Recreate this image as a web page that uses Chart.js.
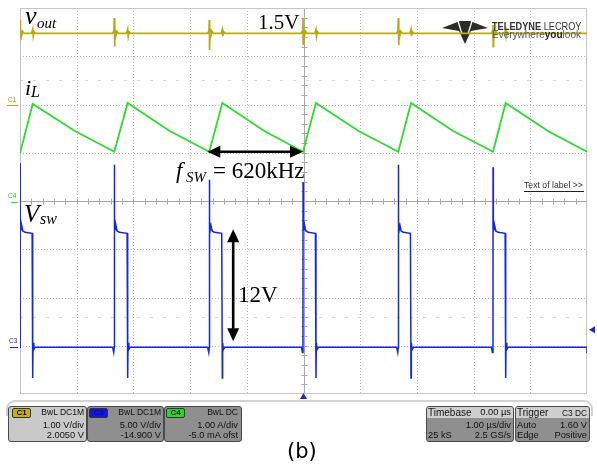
<!DOCTYPE html>
<html>
<head>
<title>Buck converter scope capture</title>
<script src="https://cdn.jsdelivr.net/npm/chart.js"></script>
<style>
body { margin: 0; background: #fff; }
#wrap { position: relative; width: 597px; height: 468px; overflow: hidden; }
#scope { position: absolute; left: 0; top: 0; }
.t { position: absolute; white-space: nowrap; line-height: 1; }
.serif { font-family: 'Liberation Serif', 'Times New Roman', serif; color: #000; }
.it { font-style: italic; }
.sans { font-family: 'Liberation Sans', Arial, sans-serif; color: #111; }
.dejavu { font-family: 'DejaVu Sans', sans-serif; color: #000; }
.panel { position: absolute; left: 6px; top: 400px; width: 583px; height: 14px;
  border: 2px solid #d2d2d2; border-bottom: none; border-radius: 9px 9px 0 0; }
.box { position: absolute; top: 406px; height: 34px; border: 1px solid #4a4a4a;
  border-radius: 3px; background: #8f8f8f; overflow: hidden; }
.head { position: absolute; left: 0; top: 0; right: 0; height: 11px; background: #cfcfcf; }
.badge { position: absolute; top: 408px; height: 8px; width: 17px; border: 1px solid #333;
  border-radius: 2px; font: bold 8px 'Liberation Sans', Arial, sans-serif; line-height: 8px;
  text-align: center; }
</style>
</head>
<body>
<div id="wrap">
  <canvas id="scope" width="597" height="468"></canvas>
  <div class="panel"></div>
  <div class="box" style="left:8px;width:77px;background:#c9c9c9"></div>
  <div class="box" style="left:87px;width:75px"></div>
  <div class="box" style="left:164px;width:76px"></div>
  <div class="box" style="left:426px;width:86px"><div class="head"></div></div>
  <div class="box" style="left:515px;width:73px"><div class="head"></div></div>
  <div class="badge" style="left:12px;background:#c8b400;color:#000">C1</div>
  <div class="badge" style="left:89px;background:#1414e6;color:#0a0a90">C3</div>
  <div class="badge" style="left:166px;background:#22dd22;color:#000">C4</div>
</div>

<script>
// time in µs over the 10 screen divisions (1 µs/div), amplitude in screen divisions (centre line = 0)

// switch node (C3, 5 V/div)
const swRise = [0.000, 1.663, 3.339, 4.991, 6.672, 8.342];
const swFall = [0.224, 1.899, 3.568, 5.220, 6.896, 8.566];
const swSpike = [0.79, 0.75, 0.44, 0.39, 0.75, 0.70];
const swHigh = -0.65;
const swRing = -0.43;
const swLow = -3.03;
const swUnder = -3.67;

// inductor current (C4, 1 A/div)
const ilT = [0, 0.224, 0.97, 1.663, 1.899, 2.64, 3.339, 3.568, 4.31, 4.991, 5.220, 5.97,
             6.672, 6.896, 7.64, 8.342, 8.566, 9.31, 10];
const ilA = [0.99, 2.01, 1.45, 1.02, 2.03, 1.45, 1.02, 2.03, 1.45, 1.02, 2.03, 1.45,
             1.02, 2.03, 1.45, 1.02, 2.03, 1.45, 1.02];

// output voltage (C1, 1 V/div)
const voutLevel = 3.476;
const voutHi = [3.75, 3.79, 3.75, 3.80, 3.79, 3.65];
const voutLo = [3.37, 3.20, 3.13, 3.25, 3.23, 3.20];

const refLevels = [2.51, -2.40];
const trigLevel = -2.67;

const yellow = '#b9aa14';
const green = '#2edc2e';
const blue = '#1428dc';

function buildVsw() {
    const pts = [];
    swRise.forEach((r, i) => {
        const f = swFall[i];
        if (i > 0) pts.push({x: r - 0.03, y: swLow}, {x: r - 0.01, y: swLow - 0.11});
        pts.push({x: r, y: swLow}, {x: r + 0.001, y: swSpike[i]}, {x: r + 0.006, y: swRing},
            {x: r + 0.018, y: swHigh + 0.06}, {x: r + 0.03, y: swRing - 0.08},
            {x: r + 0.05, y: swHigh + 0.03}, {x: r + 0.09, y: swHigh},
            {x: f - 0.01, y: swHigh - 0.02}, {x: f, y: swUnder},
            {x: f + 0.006, y: swLow + 0.09}, {x: f + 0.02, y: swLow - 0.05},
            {x: f + 0.045, y: swLow});
    });
    pts.push({x: 10, y: swLow}, {x: 10, y: swLow - 0.12});
    return pts;
}

function buildVout() {
    const L = voutLevel, pts = [];
    swRise.forEach((r, i) => {
        const f = swFall[i];
        if (i > 0) pts.push({x: r - 0.03, y: L}, {x: r - 0.006, y: L + 0.05});
        pts.push({x: r, y: voutHi[i]}, {x: r + 0.004, y: voutLo[i]}, {x: r + 0.012, y: L + 0.1},
            {x: r + 0.025, y: L - 0.06}, {x: r + 0.045, y: L + 0.04}, {x: r + 0.07, y: L},
            {x: f - 0.02, y: L}, {x: f, y: L + 0.08}, {x: f + 0.01, y: L - 0.06},
            {x: f + 0.025, y: L + 0.03}, {x: f + 0.05, y: L});
    });
    pts.push({x: 10, y: L});
    return pts;
}

const ilPts = ilT.map((t, i) => ({x: t, y: ilA[i]}));

function seg(ctx, x1, y1, x2, y2) {
    ctx.beginPath(); ctx.moveTo(x1, y1); ctx.lineTo(x2, y2); ctx.stroke();
}
function poly(ctx, p) {
    ctx.beginPath(); ctx.moveTo(p[0], p[1]);
    for (let i = 2; i < p.length; i += 2) ctx.lineTo(p[i], p[i + 1]);
    ctx.closePath(); ctx.fill();
}

const scopeGrid = {
    id: 'scopeGrid',
    beforeDatasetsDraw(chart) {
        const {ctx, chartArea: a, scales: {x, y}} = chart;
        ctx.save();
        ctx.lineWidth = 1;
        ctx.strokeStyle = '#b9b9b9';
        ctx.setLineDash([1, 2]);
        for (let i = 1; i < 10; i++) {
            if (i === 5) continue;
            const px = Math.round(x.getPixelForValue(i)) + 0.5;
            seg(ctx, px, a.top, px, a.bottom);
        }
        for (let j = -3; j <= 3; j++) {
            if (j === 0) continue;
            const py = Math.round(y.getPixelForValue(j)) + 0.5;
            seg(ctx, a.left, py, a.right, py);
        }
        ctx.strokeStyle = '#d8d8d8';
        ctx.setLineDash([3, 10]);
        refLevels.forEach(v => {
            const py = Math.round(y.getPixelForValue(v)) + 0.5;
            seg(ctx, a.left, py, a.right, py);
        });
        ctx.setLineDash([]);
        // centre axes with minor ticks
        ctx.strokeStyle = '#a9a9a9';
        const cx = Math.round(x.getPixelForValue(5)) + 0.5;
        const cy = Math.round(y.getPixelForValue(0)) + 0.5;
        seg(ctx, cx, a.top, cx, a.bottom);
        seg(ctx, a.left, cy, a.right, cy);
        for (let k = 1; k < 50; k++) {
            const px = Math.round(x.getPixelForValue(k * 0.2)) + 0.5;
            seg(ctx, px, cy - 3, px, cy + 3);
        }
        for (let k = 1; k < 40; k++) {
            const py = Math.round(y.getPixelForValue(-4 + k * 0.2)) + 0.5;
            seg(ctx, cx - 3, py, cx + 3, py);
        }
        ctx.strokeStyle = '#c6c6c6';
        ctx.strokeRect(a.left + 0.5, a.top + 0.5, a.width - 1, a.height - 1);
        // maker logo
        ctx.fillStyle = '#2b2b2b';
        poly(ctx, [442, 28, 460, 21, 470, 21, 488, 28, 471, 31, 465, 44, 459, 31]);
        ctx.strokeStyle = '#fff';
        ctx.lineWidth = 1.3;
        seg(ctx, 458, 21, 462, 34);
        seg(ctx, 472, 21, 468, 34);
        ctx.restore();
    },
    afterDraw(chart) {
        const {ctx, scales: {x, y}} = chart;
        ctx.save();
        ctx.strokeStyle = '#000';
        ctx.fillStyle = '#000';
        ctx.lineWidth = 2.6;
        // period arrow between two switching edges
        const x1 = x.getPixelForValue(swRise[2]) - 2, x2 = x.getPixelForValue(swRise[3]);
        const ya = y.getPixelForValue(ilA[3]);
        seg(ctx, x1 + 8, ya, x2 - 8, ya);
        poly(ctx, [x1, ya, x1 + 13, ya - 6, x1 + 13, ya + 6]);
        poly(ctx, [x2, ya, x2 - 13, ya - 6, x2 - 13, ya + 6]);
        // amplitude arrow of the switch node
        const xa = x.getPixelForValue(3.76);
        const yt = y.getPixelForValue(swHigh) - 3, yb = y.getPixelForValue(swLow) - 6;
        seg(ctx, xa, yt + 8, xa, yb - 8);
        poly(ctx, [xa, yt, xa - 6, yt + 13, xa + 6, yt + 13]);
        poly(ctx, [xa, yb, xa - 6, yb - 13, xa + 6, yb - 13]);
        // channel ground markers
        ctx.lineWidth = 1;
        ctx.strokeStyle = yellow; seg(ctx, 7, 105.5, 18, 105.5);
        ctx.strokeStyle = green; seg(ctx, 11, 202.5, 18, 202.5);
        ctx.strokeStyle = blue; seg(ctx, 10, 347.5, 18, 347.5);
        ctx.strokeStyle = '#222'; seg(ctx, 524, 191.5, 584, 191.5);
        // trigger markers
        ctx.fillStyle = blue;
        const ty = y.getPixelForValue(trigLevel);
        poly(ctx, [589, ty, 595, ty - 3.5, 595, ty + 3.5]);
        const tx = x.getPixelForValue(5);
        poly(ctx, [tx, 393, tx - 3.5, 399, tx + 3.5, 399]);
        ctx.restore();
    }
};

new Chart(document.getElementById('scope').getContext('2d'), {
    type: 'line',
    data: {
        datasets: [
            {data: buildVout(), borderColor: yellow, borderWidth: 1.7},
            {data: ilPts, borderColor: green, borderWidth: 1.8},
            {data: buildVsw(), borderColor: blue, borderWidth: 1.5}
        ]
    },
    options: {
        responsive: false,
        animation: false,
        layout: {padding: {left: 20, right: 10, top: 8, bottom: 74}},
        elements: {point: {radius: 0}, line: {tension: 0}},
        scales: {
            x: {type: 'linear', min: 0, max: 10, display: false},
            y: {min: -4, max: 4, display: false}
        },
        plugins: {legend: {display: false}, tooltip: {enabled: false}}
    },
    plugins: [scopeGrid]
});

// text layer
const wrap = document.getElementById('wrap');
function txt(s, x, base, size, cls, align, style) {
    const el = document.createElement('span');
    el.className = 't ' + cls;
    el.innerHTML = s;
    el.style.fontSize = size + 'px';
    const k = cls.indexOf('serif') >= 0 ? 0.8375 : 0.8465;
    el.style.top = (base - k * size) + 'px';
    if (align === 'right') el.style.right = (597 - x) + 'px';
    else el.style.left = x + 'px';
    if (style) Object.assign(el.style, style);
    wrap.appendChild(el);
}

txt('v', 25, 25, 26, 'serif it');
txt('out', 37, 28.5, 15, 'serif it');
txt('1.5V', 258, 30, 21, 'serif');
txt('i', 25, 95, 22, 'serif it');
txt('L', 31, 97.5, 16, 'serif it');
txt('f', 176, 178, 23, 'serif it');
txt('SW', 186, 182.5, 15, 'serif it');
txt('= 620kHz', 213, 178, 23, 'serif');
txt('V', 24, 222, 25, 'serif it');
txt('sw', 40, 224, 16, 'serif it');
txt('12V', 238, 302, 23, 'serif');

txt('<b>TELEDYNE</b> LECROY', 492, 30.5, 11.5, 'sans', 'left',
    {color: '#353535', transform: 'scaleX(0.8)', transformOrigin: 'left'});
txt('Everywhere<b style="color:#222">you</b>look', 492, 38.5, 10, 'sans', 'left', {color: '#5a5a5a'});
txt('Text of label &gt;&gt;', 524, 188.5, 8.7, 'sans', 'left', {color: '#333'});

txt('C1', 8, 102.5, 6.5, 'sans', 'left', {color: '#b0a300'});
txt('C4', 8, 198.5, 6.5, 'sans', 'left', {color: '#22c822'});
txt('C3', 9, 344, 6.5, 'sans', 'left', {color: '#2020d0'});

// channel and timebase readouts
txt('BwL DC1M', 84, 415.5, 8.5, 'sans', 'right');
txt('1.00 V/div', 84, 428.5, 9.3, 'sans', 'right');
txt('2.0050 V', 84, 439, 9.3, 'sans', 'right');
txt('BwL DC1M', 161, 415.5, 8.5, 'sans', 'right');
txt('5.00 V/div', 161, 428.5, 9.3, 'sans', 'right');
txt('-14.900 V', 161, 439, 9.3, 'sans', 'right');
txt('BwL DC', 238, 415.5, 8.5, 'sans', 'right');
txt('1.00 A/div', 238, 428.5, 9.3, 'sans', 'right');
txt('-5.0 mA ofst', 238, 439, 9.3, 'sans', 'right');

txt('Timebase', 428, 416, 10, 'sans');
txt('0.00 µs', 511, 416, 9.3, 'sans', 'right');
txt('1.00 µs/div', 511, 428.5, 9.3, 'sans', 'right');
txt('25 kS', 428, 439, 9.3, 'sans');
txt('2.5 GS/s', 511, 439, 9.3, 'sans', 'right');
txt('Trigger', 517, 416, 10, 'sans');
txt('C3 DC', 587, 416, 8.3, 'sans', 'right');
txt('Auto', 517, 428.5, 9.3, 'sans');
txt('1.60 V', 587, 428.5, 9.3, 'sans', 'right');
txt('Edge', 517, 439, 9.3, 'sans');
txt('Positive', 587, 439, 9.3, 'sans', 'right');

txt('(b)', 287, 459, 21, 'dejavu');
</script>
</body>
</html>
